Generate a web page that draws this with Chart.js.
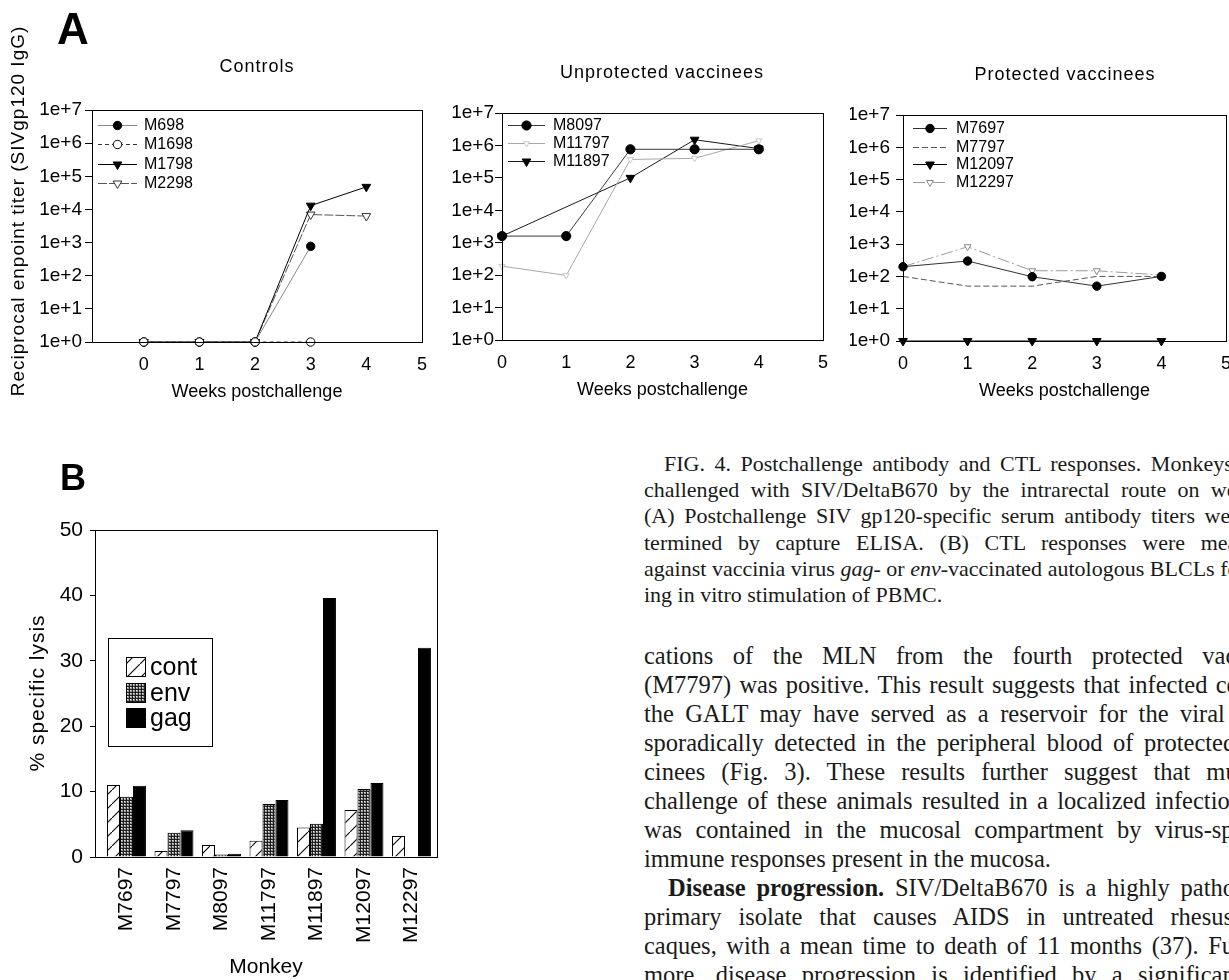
<!DOCTYPE html>
<html><head><meta charset="utf-8"><title>FIG. 4</title>
<script src="https://cdn.jsdelivr.net/npm/chart.js@4.4.1/dist/chart.umd.min.js"></script>
<style>
html,body{margin:0;padding:0;background:#fff;}
body{width:1229px;height:980px;overflow:hidden;position:relative;}
canvas{position:absolute;}
.plet{position:absolute;font-family:"Liberation Sans",Arial,sans-serif;font-weight:bold;line-height:1;color:#000;}
.tl{position:absolute;left:644px;white-space:nowrap;font-family:"Liberation Serif","Times New Roman",serif;color:#1a1a1a;}
.cap{font-size:22px;line-height:26.3px;}
.bod{font-size:24.5px;line-height:29.05px;}
</style></head><body>
<canvas id="cCtrl" width="440" height="410" style="left:0;top:0;"></canvas>
<canvas id="cUnp" width="410" height="410" style="left:440px;top:0;"></canvas>
<canvas id="cPro" width="400" height="410" style="left:850px;top:0;"></canvas>
<canvas id="cLys" width="450" height="540" style="left:0;top:440px;"></canvas>
<div class="plet" style="left:57px;top:7px;font-size:44px;">A</div>
<div class="plet" style="left:60px;top:460px;font-size:36px;">B</div>

<div class="tl cap" data-end="1285" style="left:664px;top:451px;">FIG. 4. Postchallenge antibody and CTL responses. Monkeys were</div>
<div class="tl cap" data-end="1285" style="top:477px;">challenged with SIV/DeltaB670 by the intrarectal route on week 0.</div>
<div class="tl cap" data-end="1285" style="top:503px;">(A) Postchallenge SIV gp120-specific serum antibody titers were de-</div>
<div class="tl cap" data-end="1285" style="top:530px;">termined by capture ELISA. (B) CTL responses were measured</div>
<div class="tl cap" data-end="1285" style="top:556px;">against vaccinia virus <i>gag</i>- or <i>env</i>-vaccinated autologous BLCLs follow-</div>
<div class="tl cap" style="top:582px;">ing in vitro stimulation of PBMC.</div>

<div class="tl bod" data-end="1288" style="top:641px;">cations of the MLN from the fourth protected vaccinee</div>
<div class="tl bod" data-end="1288" style="top:670px;">(M7797) was positive. This result suggests that infected cells in</div>
<div class="tl bod" data-end="1288" style="top:699px;">the GALT may have served as a reservoir for the viral RNA</div>
<div class="tl bod" data-end="1288" style="top:728px;">sporadically detected in the peripheral blood of protected vac-</div>
<div class="tl bod" data-end="1288" style="top:757px;">cinees (Fig. 3). These results further suggest that mucosal</div>
<div class="tl bod" data-end="1288" style="top:786px;">challenge of these animals resulted in a localized infection that</div>
<div class="tl bod" data-end="1288" style="top:815px;">was contained in the mucosal compartment by virus-specific</div>
<div class="tl bod" style="top:844px;">immune responses present in the mucosa.</div>
<div class="tl bod" data-end="1288" style="left:668px;top:873px;"><b>Disease progression.</b> SIV/DeltaB670 is a highly pathogenic</div>
<div class="tl bod" data-end="1288" style="top:902px;">primary isolate that causes AIDS in untreated rhesus ma-</div>
<div class="tl bod" data-end="1288" style="top:931px;">caques, with a mean time to death of 11 months (37). Further-</div>
<div class="tl bod" data-end="1288" style="top:960px;">more, disease progression is identified by a significant de-</div>

<script>
// ---------------- data ----------------
const weeks = [0, 1, 2, 3, 4];
const xTicksA = [0, 1, 2, 3, 4, 5];
const yTicksA = [1, 10, 100, 1000, 1e4, 1e5, 1e6, 1e7];

// Controls
const ctrlM698  = [1, 1, 1, 770, null];
const ctrlM1698 = [1, 1, 1, 1, null];
const ctrlM1798 = [1, 1, 1, 13000, 48000];
const ctrlM2298 = [1, 1, 1, 7000, 6300];

// Unprotected vaccinees
const unpM8097  = [1600, 1600, 760000, 760000, 760000];
const unpM11797 = [190, 98, 370000, 400000, 1400000];
const unpM11897 = [1600, null, 100000, 1500000, 800000];

// Protected vaccinees
const proM7697  = [200, 300, 98, 50, 100];
const proM7797  = [100, 50, 50, 100, 100];
const proM12097 = [1, 1, 1, 1, 1];
const proM12297 = [200, 830, 150, 150, 110];

// Panel B: % specific lysis
const monkeys   = ['M7697', 'M7797', 'M8097', 'M11797', 'M11897', 'M12097', 'M12297'];
const lysisCont = [11.0, 0.9, 1.85, 2.5, 4.5, 7.2, 3.2];
const lysisEnv  = [9.2, 3.7, 0.4, 8.1, 5.1, 10.4, 0];
const lysisGag  = [10.9, 4.1, 0.5, 8.7, 39.6, 11.3, 32.0];
const yTicksB   = [0, 10, 20, 30, 40, 50];

// ---------------- justify text lines ----------------
document.querySelectorAll('.tl[data-end]').forEach(el => {
  const left = el.offsetLeft, end = +el.dataset.end;
  const nat = el.getBoundingClientRect().width;
  const n = (el.textContent.match(/ /g) || []).length;
  if (n) el.style.wordSpacing = ((end - left - nat) / n) + 'px';
});

// ---------------- chart setup ----------------
const FONT = '"Liberation Sans", Arial, Helvetica, sans-serif';
Chart.defaults.font.family = FONT;
Chart.defaults.color = '#000';

const deco = {};

function marker(ctx, style, r, rot, x, y) {
  if (Chart.helpers && Chart.helpers.drawPoint) {
    Chart.helpers.drawPoint(ctx, {pointStyle: style, radius: r, rotation: rot, borderWidth: 1}, x, y);
    return;
  }
  ctx.beginPath();
  if (style === 'circle') ctx.arc(x, y, r, 0, Math.PI * 2);
  else { ctx.moveTo(x - r * 0.866, y - r / 2); ctx.lineTo(x + r * 0.866, y - r / 2); ctx.lineTo(x, y + r); ctx.closePath(); }
  ctx.fill(); ctx.stroke();
}

const decoPlugin = {
  id: 'deco',
  afterDraw(chart) {
    const d = deco[chart.canvas.id]; if (!d) return;
    const ctx = chart.ctx, a = chart.chartArea;
    ctx.save();
    if (d.frame) {
      ctx.strokeStyle = '#000'; ctx.lineWidth = 1;
      const l = Math.round(a.left), t = Math.round(a.top), r = Math.round(a.right), b = Math.round(a.bottom);
      ctx.strokeRect(l + 0.5, t + 0.5, r - l, b - t);
    }
    (d.texts || []).forEach(t => {
      ctx.save();
      ctx.font = t.font; ctx.fillStyle = '#000';
      try { ctx.letterSpacing = t.ls || '0px'; } catch (e) {}
      ctx.textAlign = 'center'; ctx.textBaseline = 'middle';
      ctx.translate(t.x, t.y); if (t.rot) ctx.rotate(t.rot);
      ctx.fillText(t.text, 0, 0);
      ctx.restore();
    });
    if (d.lineLegend) {
      const L = d.lineLegend;
      L.rows.forEach((y, i) => {
        const ds = chart.data.datasets[i];
        ctx.save();
        ctx.strokeStyle = ds.borderColor; ctx.lineWidth = ds.borderWidth || 1;
        ctx.setLineDash(ds.borderDash || []);
        ctx.beginPath(); ctx.moveTo(L.x0, y + 0.5); ctx.lineTo(L.x1, y + 0.5); ctx.stroke();
        ctx.setLineDash([]);
        if (ds.pointRadius > 0) {
          ctx.fillStyle = ds.pointBackgroundColor; ctx.strokeStyle = ds.pointBorderColor; ctx.lineWidth = 1;
          marker(ctx, ds.pointStyle, ds.pointRadius, ds.pointRotation || 0, (L.x0 + L.x1) / 2, y + 0.5);
        }
        ctx.fillStyle = '#000'; ctx.font = L.font; ctx.textAlign = 'left'; ctx.textBaseline = 'middle';
        ctx.fillText(ds.label, L.tx, y + 1);
        ctx.restore();
      });
    }
    if (d.barLegend) {
      const B = d.barLegend;
      ctx.strokeStyle = '#000'; ctx.lineWidth = 1;
      ctx.fillStyle = '#fff';
      ctx.fillRect(B.box[0], B.box[1], B.box[2] - B.box[0], B.box[3] - B.box[1]);
      ctx.strokeRect(B.box[0] + 0.5, B.box[1] + 0.5, B.box[2] - B.box[0], B.box[3] - B.box[1]);
      B.rows.forEach((y, i) => {
        const ds = chart.data.datasets[i];
        ctx.fillStyle = ds.backgroundColor;
        ctx.fillRect(B.sx, y - B.s / 2, B.s, B.s);
        ctx.strokeRect(B.sx + 0.5, y - B.s / 2 + 0.5, B.s - 1, B.s - 1);
        ctx.fillStyle = '#000'; ctx.font = B.font; ctx.textAlign = 'left'; ctx.textBaseline = 'middle';
        ctx.fillText(ds.label, B.tx, y + 1);
      });
    }
    ctx.restore();
  }
};
Chart.register(decoPlugin);

function lineDS(label, arr, st) {
  return Object.assign({
    label,
    data: weeks.map((w, i) => ({x: w, y: arr[i]})).filter(p => p.y !== null),
    borderWidth: 1, pointBorderWidth: 1, pointHoverRadius: 0, clip: false, tension: 0, fill: false,
    pointRotation: 0
  }, st);
}
const dotBlack  = {pointStyle: 'circle', pointRadius: 4.2, pointBackgroundColor: '#000', pointBorderColor: '#000'};
const dotOpen   = {pointStyle: 'circle', pointRadius: 4.2, pointBackgroundColor: '#fff', pointBorderColor: '#000'};
const triBlack  = {pointStyle: 'triangle', pointRotation: 180, pointRadius: 5, pointBackgroundColor: '#000', pointBorderColor: '#000'};

function yLog(w, pad) {
  return {
    type: 'logarithmic', min: 1, max: 1e7,
    afterFit(s) { s.width = w; },
    afterBuildTicks(s) { s.ticks = yTicksA.map(v => ({value: v})); },
    ticks: {callback: v => '1e+' + Math.round(Math.log10(v)), font: {size: 19}, padding: pad, color: '#000', autoSkip: false},
    grid: {display: true, drawOnChartArea: false, drawTicks: true, tickLength: 7, color: '#000', lineWidth: 1},
    border: {display: true, color: '#000', width: 1}
  };
}
function xWeeks(min, max) {
  return {
    type: 'linear', min, max,
    afterFit(s) { s.height = 61; },
    afterBuildTicks(s) { s.ticks = xTicksA.map(v => ({value: v})); },
    ticks: {font: {size: 18}, padding: 12, color: '#000', autoSkip: false, maxRotation: 0, minRotation: 0, callback: v => String(v)},
    grid: {display: false, drawTicks: false},
    border: {display: true, color: '#000', width: 1},
    title: {display: true, text: 'Weeks postchallenge', font: {size: 18}, color: '#000', padding: 0}
  };
}
function baseOpts(pad, xs, ys) {
  return {
    responsive: false, animation: false, events: [],
    layout: {padding: pad},
    plugins: {legend: {display: false}, tooltip: {enabled: false}, title: {display: false}},
    scales: {x: xs, y: ys}
  };
}

// ---- Controls ----
deco.cCtrl = {
  frame: true,
  texts: [
    {text: 'Controls', x: 257, y: 67, font: '18px ' + FONT, ls: '1px'},
    {text: 'Reciprocal enpoint titer (SIVgp120 IgG)', x: 19, y: 211, rot: -Math.PI / 2, font: '19px ' + FONT, ls: '1px'}
  ],
  lineLegend: {rows: [125, 144, 164, 183], x0: 98, x1: 137, tx: 144, font: '16px ' + FONT}
};
new Chart(document.getElementById('cCtrl'), {
  type: 'line',
  data: {datasets: [
    lineDS('M698', ctrlM698, Object.assign({borderColor: '#8a8a8a'}, dotBlack)),
    lineDS('M1698', ctrlM1698, Object.assign({borderColor: '#333', borderDash: [4, 3], order: -1}, dotOpen)),
    lineDS('M1798', ctrlM1798, Object.assign({borderColor: '#000'}, triBlack)),
    lineDS('M2298', ctrlM2298, {borderColor: '#555', borderDash: [9, 2], pointStyle: 'triangle', pointRotation: 180, pointRadius: 5, pointBackgroundColor: '#fff', pointBorderColor: '#333'})
  ]},
  options: baseOpts({left: 0, top: 110, right: 18, bottom: 7}, xWeeks(-0.93, 5), yLog(92, 3))
});

// ---- Unprotected vaccinees ----
deco.cUnp = {
  frame: true,
  texts: [{text: 'Unprotected vaccinees', x: 222, y: 73, font: '18px ' + FONT, ls: '1px'}],
  lineLegend: {rows: [125, 143, 161], x0: 68, x1: 105, tx: 113, font: '16px ' + FONT}
};
new Chart(document.getElementById('cUnp'), {
  type: 'line',
  data: {datasets: [
    lineDS('M8097', unpM8097, Object.assign({borderColor: '#3a3a3a'}, dotBlack, {pointRadius: 4.6})),
    lineDS('M11797', unpM11797, {borderColor: '#a8a8a8', pointStyle: 'triangle', pointRotation: 180, pointRadius: 3.5, pointBackgroundColor: '#fff', pointBorderColor: '#c8c8c8'}),
    lineDS('M11897', unpM11897, Object.assign({borderColor: '#1a1a1a'}, triBlack))
  ]},
  options: baseOpts({left: 0, top: 113, right: 27, bottom: 9}, xWeeks(0, 5), yLog(62, 1))
});

// ---- Protected vaccinees ----
deco.cPro = {
  frame: true,
  texts: [{text: 'Protected vaccinees', x: 215, y: 75, font: '18px ' + FONT, ls: '1px'}],
  lineLegend: {rows: [128, 147, 164, 182], x0: 63, x1: 97, tx: 106, font: '16px ' + FONT}
};
new Chart(document.getElementById('cPro'), {
  type: 'line',
  data: {datasets: [
    lineDS('M7697', proM7697, Object.assign({borderColor: '#333'}, dotBlack)),
    lineDS('M7797', proM7797, {borderColor: '#555', borderDash: [6, 3], pointRadius: 0, pointStyle: 'circle', pointBackgroundColor: '#fff', pointBorderColor: '#999'}),
    lineDS('M12097', proM12097, Object.assign({borderColor: '#000'}, triBlack)),
    lineDS('M12297', proM12297, {borderColor: '#9a9a9a', borderDash: [12, 3, 2, 3], pointStyle: 'triangle', pointRotation: 180, pointRadius: 4, pointBackgroundColor: '#fff', pointBorderColor: '#888'})
  ]},
  options: baseOpts({left: 0, top: 115, right: 24, bottom: 8}, xWeeks(0, 5), yLog(53, 6))
});

// ---- Panel B ----
function hatchPattern() {
  const c = document.createElement('canvas'); c.width = 14; c.height = 14;
  const g = c.getContext('2d');
  g.fillStyle = '#fff'; g.fillRect(0, 0, 14, 14);
  g.strokeStyle = '#000'; g.lineWidth = 1.1;
  g.beginPath(); g.moveTo(-2, 16); g.lineTo(16, -2); g.stroke();
  return g.createPattern(c, 'repeat');
}
function gridPattern() {
  const c = document.createElement('canvas'); c.width = 3; c.height = 3;
  const g = c.getContext('2d');
  g.fillStyle = '#1e1e1e'; g.fillRect(0, 0, 3, 3);
  g.fillStyle = '#9a9a9a'; g.fillRect(1, 1, 2, 2);
  g.fillStyle = '#eee'; g.fillRect(1, 1, 1, 1);
  return g.createPattern(c, 'repeat');
}
function barDS(label, arr, bg) {
  return {
    label, data: arr.map((v, i) => ({x: i, y: v})),
    backgroundColor: bg, borderColor: '#000', borderWidth: 1,
    barPercentage: 1.0, categoryPercentage: 0.82
  };
}
deco.cLys = {
  frame: true,
  texts: [{text: '% specific lysis', x: 38, y: 253, rot: -Math.PI / 2, font: '21px ' + FONT, ls: '1px'}],
  barLegend: {box: [108, 198, 212, 306], rows: [227, 253, 278], sx: 126, s: 20, tx: 150, font: '25px ' + FONT}
};
new Chart(document.getElementById('cLys'), {
  type: 'bar',
  data: {datasets: [
    barDS('cont', lysisCont, hatchPattern()),
    barDS('env', lysisEnv, gridPattern()),
    barDS('gag', lysisGag, '#000')
  ]},
  options: baseOpts({left: 0, top: 90, right: 13, bottom: 0},
    {
      type: 'linear', min: -0.663, max: 6.537, offset: false,
      afterFit(s) { s.height = 123; },
      afterBuildTicks(s) { s.ticks = monkeys.map((m, i) => ({value: i})); },
      ticks: {callback: v => monkeys[v], font: {size: 21}, minRotation: 90, maxRotation: 90, padding: 10, autoSkip: false, color: '#000'},
      grid: {display: false, drawTicks: false},
      border: {display: true, color: '#000', width: 1},
      title: {display: true, text: 'Monkey', font: {size: 21}, color: '#000', padding: 0}
    },
    {
      type: 'linear', min: 0, max: 50,
      afterFit(s) { s.width = 95; },
      afterBuildTicks(s) { s.ticks = yTicksB.map(v => ({value: v})); },
      ticks: {font: {size: 21}, padding: 7, color: '#000'},
      grid: {display: true, drawOnChartArea: false, drawTicks: true, tickLength: 5, color: '#000'},
      border: {display: true, color: '#000', width: 1}
    })
});
</script>
</body></html>
